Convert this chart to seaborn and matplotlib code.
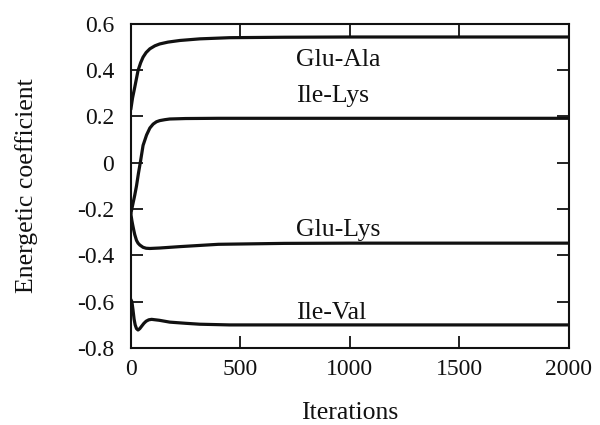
import matplotlib
matplotlib.use("Agg")
import matplotlib.pyplot as plt
import numpy as np
import pandas as pd
import seaborn as sns

# Convergence of the pairwise energetic coefficients over the iterations
glu_ala_iter = [0, 8, 18, 33, 45, 56, 70, 87, 110, 132, 170, 224, 315, 450, 700, 1000, 1500, 2000]
glu_ala_val = [0.23, 0.28, 0.326, 0.398, 0.432, 0.456, 0.476, 0.492, 0.505, 0.513, 0.521, 0.528, 0.535, 0.540, 0.542, 0.543, 0.543, 0.543]

ile_lys_iter = [0, 9, 18, 26, 35, 45, 56, 72, 87, 102, 117, 132, 155, 178, 250, 400, 1000, 2000]
ile_lys_val = [-0.22, -0.18, -0.14, -0.10, -0.045, 0.01, 0.075, 0.12, 0.15, 0.167, 0.177, 0.182, 0.186, 0.189, 0.191, 0.192, 0.192, 0.192]

glu_lys_iter = [0, 5, 9, 14, 18, 26, 33, 41, 56, 70, 87, 132, 224, 400, 700, 1000, 2000]
glu_lys_val = [-0.22, -0.25, -0.27, -0.293, -0.31, -0.335, -0.347, -0.355, -0.365, -0.369, -0.370, -0.368, -0.362, -0.352, -0.348, -0.347, -0.347]

ile_val_iter = [0, 5, 10, 15, 20, 26, 33, 41, 50, 60, 70, 82, 95, 130, 178, 250, 315, 450, 1000, 2000]
ile_val_val = [-0.59, -0.60, -0.635, -0.675, -0.70, -0.716, -0.722, -0.716, -0.705, -0.693, -0.684, -0.678, -0.676, -0.680, -0.688, -0.693, -0.697, -0.700, -0.700, -0.700]

series_names = ["Glu-Ala", "Ile-Lys", "Glu-Lys", "Ile-Val"]
label_iter = [753, 753, 753, 753]
label_val = [0.417, 0.261, -0.317, -0.676]

x_ticks = [0, 500, 1000, 1500, 2000]
y_ticks = [-0.8, -0.6, -0.4, -0.2, 0.0, 0.2, 0.4, 0.6]
y_tick_labels = ["-0.8", "-0.6", "-0.4", "-0.2", "0", "0.2", "0.4", "0.6"]

frames = []
for name, xs, ys in zip(
    series_names,
    [glu_ala_iter, ile_lys_iter, glu_lys_iter, ile_val_iter],
    [glu_ala_val, ile_lys_val, glu_lys_val, ile_val_val],
):
    frames.append(pd.DataFrame({"Iterations": xs, "value": ys, "pair": name}))
df = pd.concat(frames, ignore_index=True)

sns.set_theme(style="ticks")
plt.rcParams["font.family"] = ["Liberation Serif", "DejaVu Serif"]
plt.rcParams["axes.unicode_minus"] = False

fig = plt.figure(figsize=(6, 4.25), dpi=100)
ax = fig.add_axes([0.218, 0.181, 0.730, 0.763])

sns.lineplot(
    data=df, x="Iterations", y="value", units="pair", estimator=None,
    sort=False, color="#111111", linewidth=2.3, ax=ax, legend=False,
)

for name, xi, yi in zip(series_names, label_iter, label_val):
    ax.text(xi, yi, name, fontsize=18.5, ha="left", va="baseline", color="#111111")

ax.set_xlim(0, 2000)
ax.set_ylim(-0.8, 0.6)
ax.set_xticks(x_ticks)
ax.set_xticklabels([str(t) for t in x_ticks])
ax.set_yticks(y_ticks)
ax.set_yticklabels(y_tick_labels)

ax.tick_params(axis="both", direction="in", length=8.5, width=1.3,
               top=True, right=True, labelsize=17, colors="#111111", pad=8)
ax.tick_params(axis="y", pad=12)
for side in ax.spines.values():
    side.set_linewidth(1.5)
    side.set_color("#111111")

ax.set_xlabel("Iterations", fontsize=18.5, labelpad=16, color="#111111")
ax.set_ylabel("Energetic coefficient", fontsize=18.5, labelpad=28, color="#111111")

fig.savefig("out.png", dpi=100, facecolor="white")
